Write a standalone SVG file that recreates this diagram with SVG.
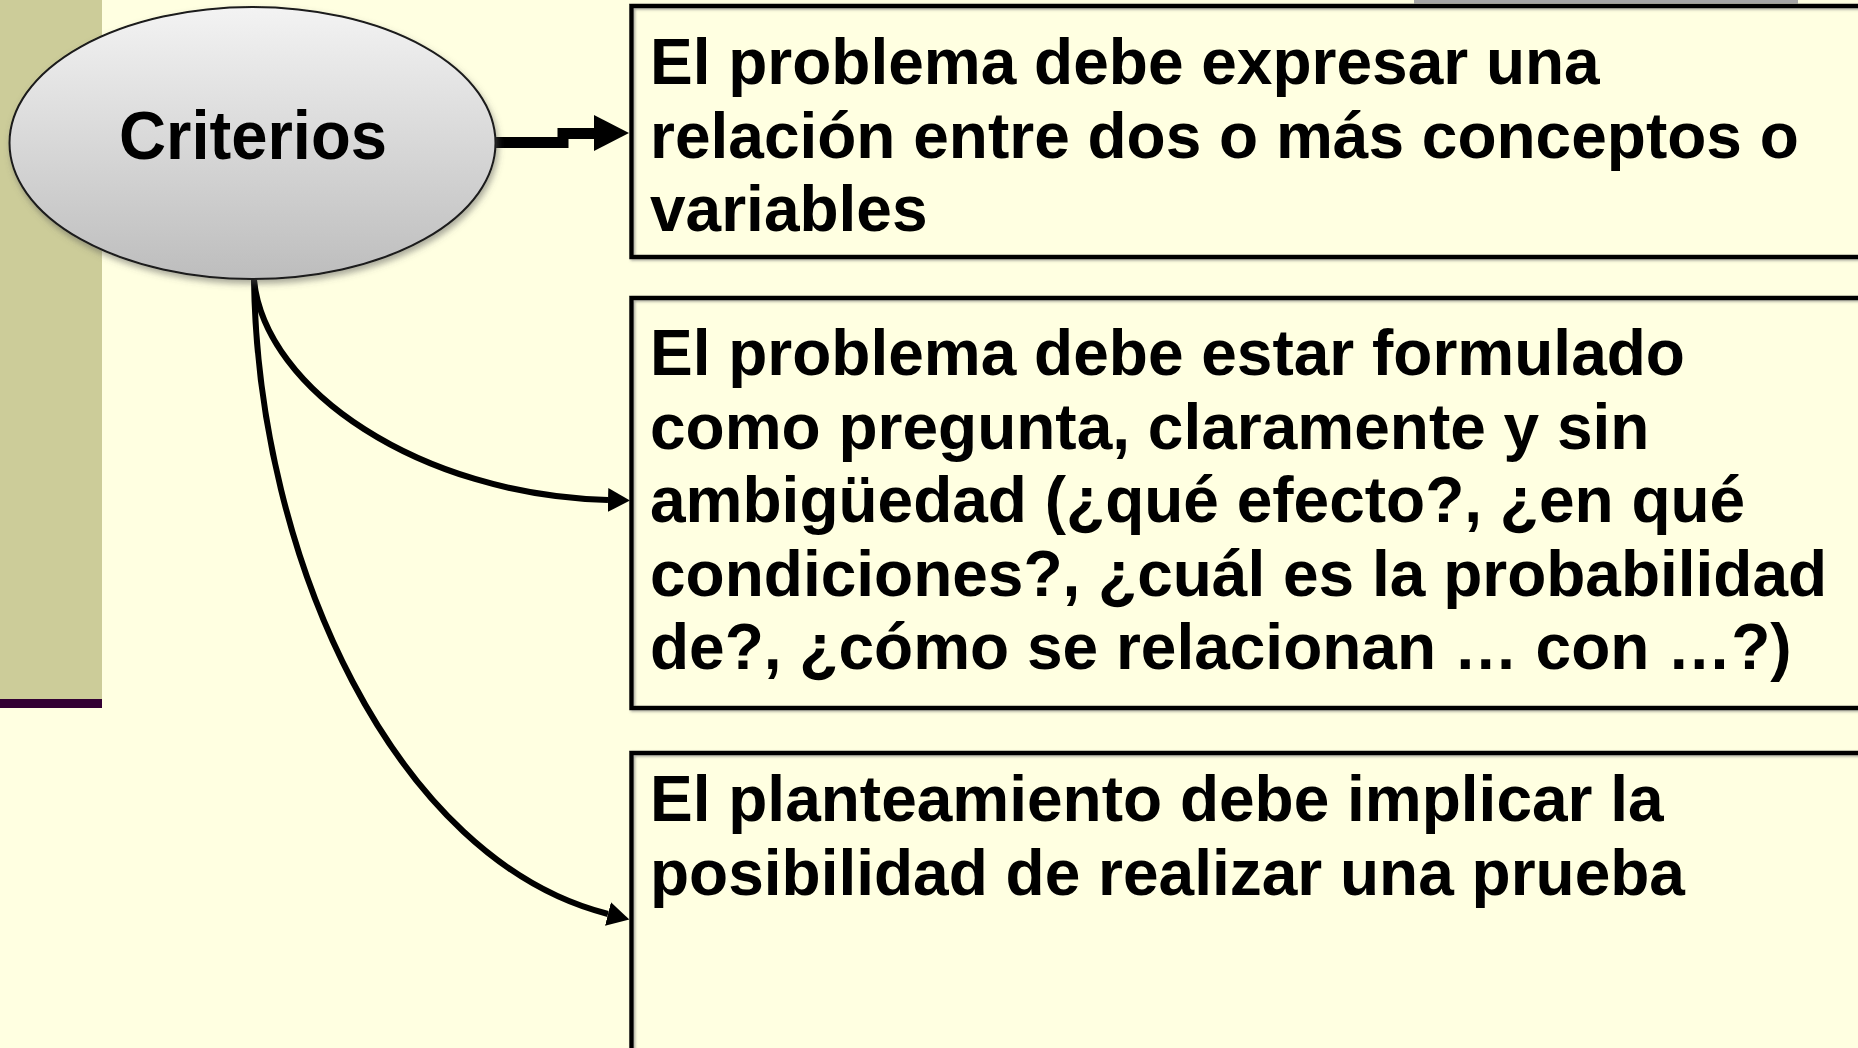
<svg xmlns="http://www.w3.org/2000/svg" width="1858" height="1048" viewBox="0 0 1858 1048">
  <defs>
    <linearGradient id="ellGrad" x1="0" y1="0" x2="0" y2="1">
      <stop offset="0" stop-color="#F3F3F3"/>
      <stop offset="1" stop-color="#BDBDBD"/>
    </linearGradient>
    <filter id="ellShadow" x="-10%" y="-10%" width="120%" height="130%">
      <feDropShadow dx="2" dy="4" stdDeviation="3" flood-color="#555" flood-opacity="0.5"/>
    </filter>
    <filter id="boxShadow" x="-5%" y="-5%" width="110%" height="110%">
      <feDropShadow dx="1.5" dy="1.5" stdDeviation="0.8" flood-color="#777" flood-opacity="0.6"/>
    </filter>
    <marker id="ah" markerUnits="userSpaceOnUse" markerWidth="24" markerHeight="26" viewBox="0 -13 24 26" refX="0" refY="0" orient="auto">
      <path d="M0,-12 L22,0 L0,12 z" fill="#000"/>
    </marker>
    <style>
      .box { fill: none; stroke: #000; stroke-width: 4.5; filter: url(#boxShadow); }
      .btxt { font-family: "Liberation Sans", Arial, Helvetica, sans-serif; font-weight: bold; font-size: 64px; fill: #000; }
      .conn { fill: none; stroke: #000; stroke-width: 6; }
    </style>
  </defs>

  <rect x="0" y="0" width="1858" height="1048" fill="#FFFFE1"/>
  <rect x="0" y="0" width="102" height="699" fill="#CCCC99"/>
  <rect x="0" y="699" width="102" height="9" fill="#330033"/>
  <rect x="1414" y="0" width="384" height="3.5" fill="#A6A6A6"/>

  <g id="connectors">
    <path class="conn" d="M254,280 C265,390 420,495 608,500" marker-end="url(#ah)"/>
    <path class="conn" d="M254,280 C258,560 395,860 608,914" marker-end="url(#ah)"/>
    <path d="M494,142.5 H563 V133.5 H597" fill="none" stroke="#000" stroke-width="11" stroke-linejoin="miter"/>
    <polygon points="594,115 629,133 594,151" fill="#000"/>
  </g>

  <g id="criterios">
    <ellipse cx="252.5" cy="143" rx="243" ry="136" fill="url(#ellGrad)" stroke="#1a1a1a" stroke-width="2" filter="url(#ellShadow)"/>
    <text x="253" y="159" text-anchor="middle" font-family="'Liberation Sans', Arial, Helvetica, sans-serif" font-weight="bold" font-size="69" textLength="268" lengthAdjust="spacingAndGlyphs">Criterios</text>
  </g>

  <g id="box1">
    <rect class="box" x="631.5" y="6" width="1300" height="251"/>
    <text class="btxt" x="650" y="84">El problema debe expresar una</text>
    <text class="btxt" x="650" y="158">relación entre dos o más conceptos o</text>
    <text class="btxt" x="650" y="231">variables</text>
  </g>

  <g id="box2">
    <rect class="box" x="631.5" y="298" width="1300" height="410"/>
    <text class="btxt" x="650" y="375">El problema debe estar formulado</text>
    <text class="btxt" x="650" y="448.5">como pregunta, claramente y sin</text>
    <text class="btxt" x="650" y="522">ambigüedad (¿qué efecto?, ¿en qué</text>
    <text class="btxt" x="650" y="595.5">condiciones?, ¿cuál es la probabilidad</text>
    <text class="btxt" x="650" y="669">de?, ¿cómo se relacionan … con …?)</text>
  </g>

  <g id="box3">
    <rect class="box" x="631.5" y="753" width="1300" height="400"/>
    <text class="btxt" x="650" y="821">El planteamiento debe implicar la</text>
    <text class="btxt" x="650" y="895">posibilidad de realizar una prueba</text>
  </g>
</svg>
